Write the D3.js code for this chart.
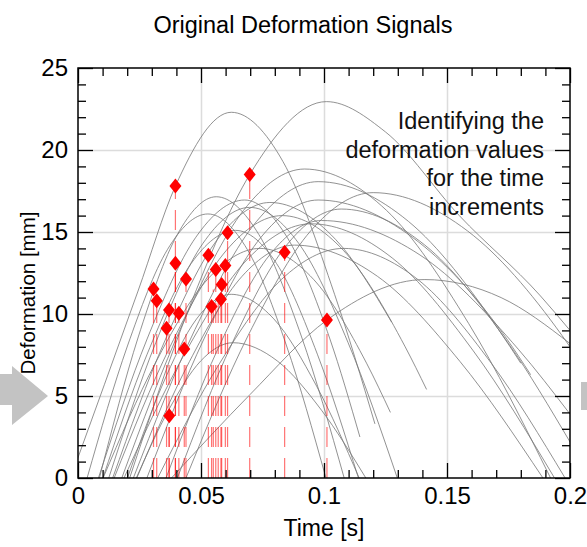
<!DOCTYPE html>
<html>
<head>
<meta charset="utf-8">
<script src="https://cdn.jsdelivr.net/npm/d3@7"></script>
<style>
  body { margin: 0; background: #fff; }
  svg { display: block; font-family: "Liberation Sans", Arial, sans-serif; }
</style>
</head>
<body>
<div id="chart"></div>
<script>
// Zeitachse und Verformungsachse
const xMajorTicks = [0, 0.05, 0.1, 0.15, 0.2];
const xTickLabels = ["0", "0.05", "0.1", "0.15", "0.2"];
const yMajorTicks = [0, 5, 10, 15, 20, 25];

// Verformungssignale: [Zeit (s), Verformung (mm)]
const signals = [
  [[-0.003, 0], [0.0244, 11.4], [0.0396, 17.8], [0.0623, 22.3], [0.0833, 19.3], [0.1043, 11.2], [0.1207, 3.3]],
  [[0.021, 0], [0.045, 10.3], [0.0698, 18.5], [0.101, 22.95], [0.125, 21.1], [0.155, 16.0], [0.188, 11.1], [0.2, 9.0]],
  [[0.0087, 0], [0.0245, 8.6], [0.0404, 14.85], [0.0562, 17.15], [0.0735, 14.85], [0.0909, 8.6], [0.1082, 0]],
  [[0.0037, 0], [0.0201, 8.05], [0.0364, 13.94], [0.0528, 16.1], [0.0688, 13.94], [0.0848, 8.05], [0.1008, 0]],
  [[0.0101, 0], [0.0281, 7.55], [0.046, 13.08], [0.064, 15.1], [0.0807, 13.08], [0.0973, 7.55], [0.114, 0]],
  [[0.0125, 0], [0.0316, 8.25], [0.0507, 14.29], [0.0698, 16.5], [0.0898, 14.29], [0.1098, 8.25], [0.1298, 0]],
  [[0.0083, 0], [0.0281, 8.48], [0.0479, 14.68], [0.0677, 16.95], [0.085, 14.68], [0.1024, 8.48], [0.1146, 2.5]],
  [[0.0178, 0], [0.0426, 9.42], [0.0673, 16.32], [0.0921, 18.84], [0.1254, 16.32], [0.1588, 9.42], [0.1921, 0]],
  [[0.0225, 0], [0.0475, 9.04], [0.0726, 15.65], [0.0976, 18.07], [0.1343, 15.65], [0.171, 9.04], [0.18, 7.0]],
  [[0.028, 0], [0.0512, 8.48], [0.0744, 14.68], [0.0976, 16.95], [0.1359, 14.68], [0.1743, 8.48], [0.184, 6.3]],
  [[0.0358, 0], [0.0568, 7.85], [0.0779, 13.6], [0.099, 15.7], [0.139, 13.6], [0.179, 7.85], [0.2, 3.9]],
  [[0.0187, 0], [0.044, 7.75], [0.0694, 13.42], [0.0947, 15.5], [0.1277, 13.42], [0.1607, 7.75], [0.1937, 0]],
  [[0.0439, 0], [0.0692, 8.7], [0.0946, 15.07], [0.12, 17.4], [0.1583, 15.07], [0.1967, 8.7], [0.2, 8.0]],
  [[0.038, 0], [0.07, 5.1], [0.1012, 9.63], [0.141, 12.1], [0.172, 11.0], [0.2, 8.2]],
  [[0.0201, 0], [0.0341, 5.6], [0.0482, 9.7], [0.0623, 11.2], [0.0796, 9.7], [0.097, 5.6], [0.1143, 0]],
  [[0.0237, 0], [0.0368, 4.13], [0.0499, 7.14], [0.063, 8.25], [0.081, 7.14], [0.099, 4.13], [0.117, 0]],
  [[0.0141, 0], [0.0354, 8.4], [0.0567, 14.55], [0.078, 16.8], [0.1047, 14.55], [0.1275, 9.5]],
  [[0.0147, 0], [0.0374, 8.0], [0.0602, 13.86], [0.083, 16.0], [0.108, 13.86], [0.133, 8.0], [0.1417, 5.4]],
  [[0.0404, 0], [0.0626, 8.2], [0.0848, 14.2], [0.107, 16.4], [0.141, 14.2], [0.175, 8.2], [0.2, 2.2]],
  [[0.0239, 0], [0.0453, 7.1], [0.0667, 12.3], [0.088, 14.2], [0.1217, 12.3], [0.1553, 7.1], [0.189, 0]],
  [[0.0102, 0], [0.0314, 7.0], [0.0527, 12.12], [0.074, 14.0], [0.0957, 12.12], [0.1173, 7.0], [0.127, 4.0]],
  [[0.0324, 0], [0.0576, 7.0], [0.0828, 12.12], [0.108, 14.0], [0.138, 12.12], [0.168, 7.0], [0.198, 0]]
];

const incrementTimes  = [0.0396, 0.0698, 0.0307, 0.032, 0.0396, 0.0439, 0.037, 0.041, 0.036, 0.0432,
                         0.0371, 0.053, 0.0543, 0.056, 0.0599, 0.0581, 0.0584, 0.0608, 0.084, 0.1012];
const incrementValues = [17.8, 18.5, 11.52, 10.81, 13.09, 12.13, 10.24, 10.04, 9.13, 7.87,
                         3.8, 13.58, 10.45, 12.72, 12.95, 10.9, 11.8, 14.96, 13.76, 9.63];
// Inkremente ohne sichtbaren Marker
const hiddenTimes  = [0.055, 0.057];
const hiddenValues = [11.5, 11.0];

const noteLines = ["Identifying the", "deformation values", "for the time", "increments"];

// Konfiguration
const width = 587, height = 547;
const mLeft = 78, mRight = 570, mTop = 68, mBottom = 478;

const svg = d3.select("#chart").append("svg")
  .attr("width", width)
  .attr("height", height);

const x = d3.scaleLinear().domain([0, 0.2]).range([mLeft, mRight]);
const y = d3.scaleLinear().domain([0, 25]).range([mBottom, mTop]);

const xMinor = d3.range(0, 21).map(i => i / 100).filter(v => !xMajorTicks.some(m => Math.abs(m - v) < 1e-9));
const yMinor = d3.range(0, 26).filter(v => v % 5 !== 0);

// Pfeile links und rechts (Dekoration)
svg.append("path")
  .attr("d", "M0,374 L12,374 L12,366 L48,396 L12,425 L12,405 L0,405 Z")
  .attr("fill", "#c3c3c3");
svg.append("rect")
  .attr("x", 581).attr("y", 382).attr("width", 6).attr("height", 28)
  .attr("fill", "#c3c3c3");

// Gitterlinien
svg.append("g")
  .attr("transform", `translate(0,${mBottom})`)
  .call(d3.axisBottom(x).tickValues([0.05, 0.1, 0.15]).tickSize(-(mBottom - mTop)).tickFormat(""))
  .call(g => g.select(".domain").remove())
  .call(g => g.selectAll("line").attr("stroke", "#dcdcdc").attr("stroke-width", 1.5));
svg.append("g")
  .attr("transform", `translate(${mLeft},0)`)
  .call(d3.axisLeft(y).tickValues([5, 10, 15, 20]).tickSize(-(mRight - mLeft)).tickFormat(""))
  .call(g => g.select(".domain").remove())
  .call(g => g.selectAll("line").attr("stroke", "#dcdcdc").attr("stroke-width", 1.5));

// Clip für die Zeichenfläche
svg.append("clipPath").attr("id", "plot")
  .append("rect").attr("x", mLeft).attr("y", mTop).attr("width", mRight - mLeft).attr("height", mBottom - mTop);

const plot = svg.append("g").attr("clip-path", "url(#plot)");

const line = d3.line()
  .x(d => x(d[0]))
  .y(d => y(d[1]))
  .curve(d3.curveMonotoneX);

plot.selectAll("path.signal")
  .data(signals)
  .join("path")
  .attr("class", "signal")
  .attr("d", line)
  .attr("fill", "none")
  .attr("stroke", "#777")
  .attr("stroke-width", 1)
  .attr("stroke-opacity", 0.8);

// Gestrichelte Linien der Zeitinkremente
const increments = incrementTimes.map((t, i) => ({ t, v: incrementValues[i] }));
const allDrops = increments.concat(hiddenTimes.map((t, i) => ({ t, v: hiddenValues[i] })));

plot.selectAll("line.drop")
  .data(allDrops)
  .join("line")
  .attr("class", "drop")
  .attr("x1", d => x(d.t)).attr("x2", d => x(d.t))
  .attr("y1", y(0)).attr("y2", d => y(d.v))
  .attr("stroke", "#ff0000")
  .attr("stroke-opacity", 0.55)
  .attr("stroke-width", 1.2)
  .attr("stroke-dasharray", "20,11");

// Rauten-Marker
plot.selectAll("path.marker")
  .data(increments)
  .join("path")
  .attr("class", "marker")
  .attr("d", "M0,-7.5L6,0L0,7.5L-6,0Z")
  .attr("transform", d => `translate(${x(d.t)},${y(d.v)})`)
  .attr("fill", "#ff0000");

// Achsen mit nach innen gerichteten Ticks
function styleAxis(g) {
  g.select(".domain").remove();
  g.selectAll("line").attr("stroke", "#000").attr("stroke-width", 1.3);
  g.selectAll("text").attr("fill", "#000").style("font-size", "24px")
    .style("font-family", "'Liberation Sans', Arial, sans-serif");
}

svg.append("g").attr("transform", `translate(0,${mBottom})`)
  .call(d3.axisBottom(x).tickValues(xMajorTicks).tickSize(-15).tickPadding(9)
    .tickFormat((d, i) => xTickLabels[i]))
  .call(styleAxis);
svg.append("g").attr("transform", `translate(0,${mBottom})`)
  .call(d3.axisBottom(x).tickValues(xMinor).tickSize(-8).tickFormat(""))
  .call(styleAxis);
svg.append("g").attr("transform", `translate(0,${mTop})`)
  .call(d3.axisTop(x).tickValues(xMajorTicks).tickSize(-15).tickFormat(""))
  .call(styleAxis);
svg.append("g").attr("transform", `translate(0,${mTop})`)
  .call(d3.axisTop(x).tickValues(xMinor).tickSize(-8).tickFormat(""))
  .call(styleAxis);

svg.append("g").attr("transform", `translate(${mLeft},0)`)
  .call(d3.axisLeft(y).tickValues(yMajorTicks).tickSize(-15).tickPadding(10).tickFormat(d3.format("d")))
  .call(styleAxis);
svg.append("g").attr("transform", `translate(${mLeft},0)`)
  .call(d3.axisLeft(y).tickValues(yMinor).tickSize(-8).tickFormat(""))
  .call(styleAxis);
svg.append("g").attr("transform", `translate(${mRight},0)`)
  .call(d3.axisRight(y).tickValues(yMajorTicks).tickSize(-15).tickFormat(""))
  .call(styleAxis);
svg.append("g").attr("transform", `translate(${mRight},0)`)
  .call(d3.axisRight(y).tickValues(yMinor).tickSize(-8).tickFormat(""))
  .call(styleAxis);

// Rahmen
svg.append("rect")
  .attr("x", mLeft).attr("y", mTop)
  .attr("width", mRight - mLeft).attr("height", mBottom - mTop)
  .attr("fill", "none").attr("stroke", "#000").attr("stroke-width", 1.5);

// Titel und Achsenbeschriftungen
svg.append("text")
  .attr("x", 303).attr("y", 33)
  .attr("text-anchor", "middle")
  .style("font-size", "23.5px")
  .text("Original Deformation Signals");

svg.append("text")
  .attr("x", (mLeft + mRight) / 2).attr("y", 536)
  .attr("text-anchor", "middle")
  .style("font-size", "23px")
  .text("Time [s]");

svg.append("text")
  .attr("transform", `translate(35,293) rotate(-90)`)
  .attr("text-anchor", "middle")
  .style("font-size", "20.5px")
  .text("Deformation [mm]");

// Hinweistext
svg.append("g")
  .selectAll("text")
  .data(noteLines)
  .join("text")
  .attr("x", 544)
  .attr("y", (d, i) => 129 + i * 28.5)
  .attr("text-anchor", "end")
  .style("font-size", "23.5px")
  .attr("fill", "#111")
  .text(d => d);
</script>
</body>
</html>
